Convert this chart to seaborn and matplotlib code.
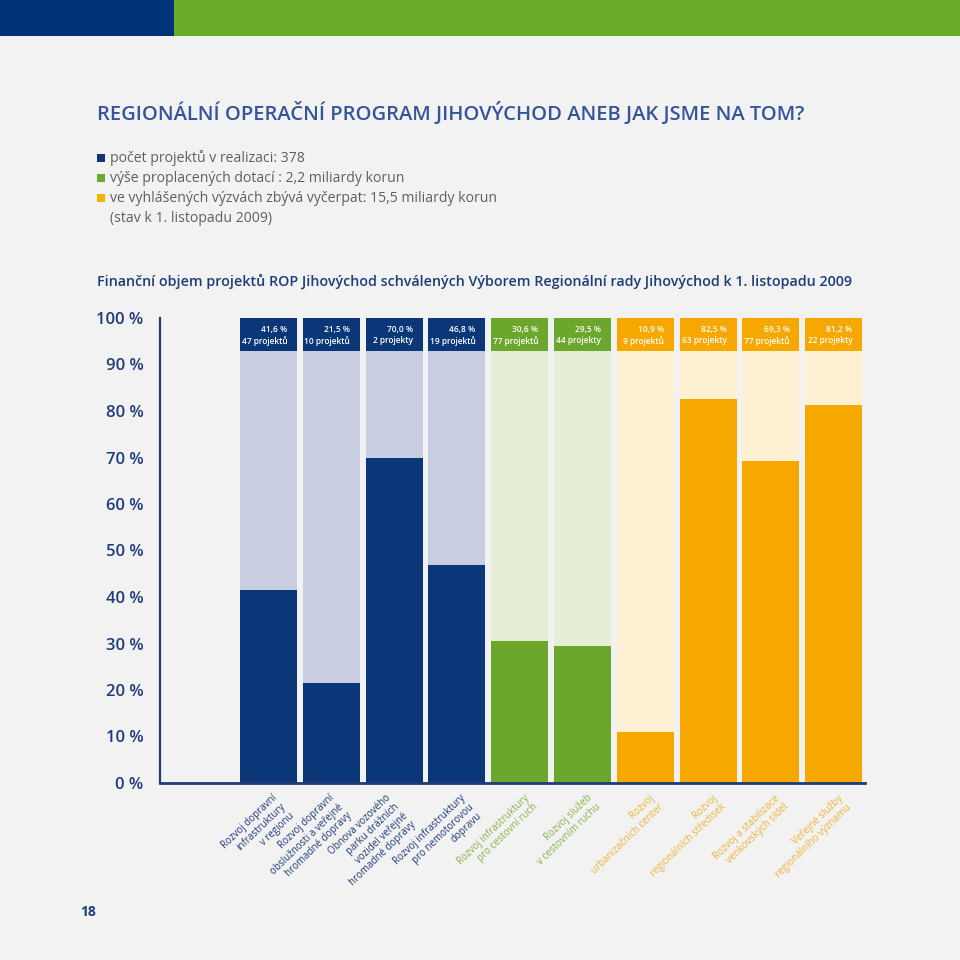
import pandas as pd
import matplotlib.pyplot as plt
import matplotlib.transforms as mtransforms
import seaborn as sns
from matplotlib.patches import Rectangle

# ---------------- DATA ---------------- #
categories = [
    "Rozvoj dopravní\ninfrastruktury\nv regionu",
    "Rozvoj dopravní\nobslužnosti a veřejné\nhromadné dopravy",
    "Obnova vozového\nparku drážních\nvozidel veřejné\nhromadné dopravy",
    "Rozvoj infrastruktury\npro nemotorovou\ndopravu",
    "Rozvoj infrastruktury\npro cestovní ruch",
    "Rozvoj služeb\nv cestovním ruchu",
    "Rozvoj\nurbanizačních center",
    "Rozvoj\nregionálních středisek",
    "Rozvoj a stabilizace\nvenkovských sídel",
    "Veřejné služby\nregionálního významu",
]
shares = [41.6, 21.5, 70.0, 46.8, 30.6, 29.5, 10.9, 82.5, 69.3, 81.2]
project_counts = ["47 projektů", "10 projektů", "2 projekty", "19 projektů", "77 projektů",
                  "44 projekty", "9 projektů", "63 projekty", "77 projektů", "22 projekty"]
groups = ["doprava"] * 4 + ["cestovni_ruch"] * 2 + ["mesta"] * 4

y_ticks = [0, 10, 20, 30, 40, 50, 60, 70, 80, 90, 100]

legend_lines = [
    "počet projektů v realizaci: 378",
    "výše proplacených dotací : 2,2 miliardy korun",
    "ve vyhlášených výzvách zbývá vyčerpat: 15,5 miliardy korun",
]
legend_note = "(stav k 1. listopadu 2009)"

title = "REGIONÁLNÍ OPERAČNÍ PROGRAM JIHOVÝCHOD ANEB JAK JSME NA TOM?"
subtitle = ("Finanční objem projektů ROP Jihovýchod schválených Výborem "
            "Regionální rady Jihovýchod k 1. listopadu 2009")

# ---------------- STYLE ---------------- #
navy = "#0b3779"
dark = {"doprava": "#0b3779", "cestovni_ruch": "#6aa72c", "mesta": "#f6a800"}
light = {"doprava": "#c9cde2", "cestovni_ruch": "#e4efd6", "mesta": "#fdf0d3"}
label_col = {"doprava": "#1d3c78", "cestovni_ruch": "#86b54a", "mesta": "#f0b43a"}
# small horizontal shift of the rotated labels (pixels)
label_shift = [3, -2, -9, 3, 4, 4, 4, 4, 4, 4]

df = pd.DataFrame({"kategorie": categories, "podil": shares, "skupina": groups})
df["plne"] = 100.0
df["pozadi"] = 93.0

sns.set_style("white")
plt.rcParams["font.family"] = ["Open Sans", "DejaVu Sans"]

fig = plt.figure(figsize=(9.6, 9.6), dpi=100, facecolor="#f2f2f2")

# top colour band
fig.add_artist(Rectangle((0, 1 - 36 / 960), 174 / 960, 36 / 960,
                         transform=fig.transFigure, color="#003478", lw=0))
fig.add_artist(Rectangle((174 / 960, 1 - 36 / 960), 1 - 174 / 960, 36 / 960,
                         transform=fig.transFigure, color="#68ac28", lw=0))

ax = fig.add_axes([160 / 960, 177 / 960, 705 / 960, 465 / 960])
ax.set_facecolor("none")

pal_dark = [dark[g] for g in groups]
pal_light = [light[g] for g in groups]

# header box, light background, value bar
for col, pal in [("plne", pal_dark), ("pozadi", pal_light), ("podil", pal_dark)]:
    sns.barplot(data=df, x="kategorie", y=col, hue="kategorie", palette=pal,
                width=0.907, saturation=1, legend=False, errorbar=None,
                linewidth=0, edgecolor="none", ax=ax)

for i, (v, n) in enumerate(zip(shares, project_counts)):
    pct = f"{v:.1f}".replace(".", ",") + " %"
    ax.text(i + 0.3, 96.3, pct + "\n" + n, ha="right", va="center", color="white",
            fontsize=6, fontweight="semibold", linespacing=1.25)

ax.set_xlim(-1.728, 9.5)
ax.set_ylim(0, 100)
ax.set_xlabel("")
ax.set_ylabel("")

ax.set_yticks(y_ticks)
ax.set_yticklabels([f"{t} %" for t in y_ticks])
ax.tick_params(axis="y", direction="in", length=13, width=1.6, color="#1d3c78",
               pad=12, labelsize=12, labelcolor="#1d3c78")
for lab in ax.get_yticklabels():
    lab.set_fontweight("semibold")

ax.set_xticks(range(len(categories)))
ax.set_xticklabels(categories, rotation=44, ha="right", va="top",
                   rotation_mode="anchor", fontsize=7, linespacing=1.15)
ax.tick_params(axis="x", length=0, pad=7)
for lab, g, dx in zip(ax.get_xticklabels(), groups, label_shift):
    lab.set_color(label_col[g])
    lab.set_transform(lab.get_transform() +
                      mtransforms.ScaledTranslation(dx / 100, 0, fig.dpi_scale_trans))

sns.despine(ax=ax, top=True, right=True)
ax.spines["left"].set_color("#1d3c78")
ax.spines["left"].set_linewidth(1.6)
ax.spines["bottom"].set_color("#1d3c78")
ax.spines["bottom"].set_linewidth(2)

# ---------------- TEXTS ---------------- #
fig.text(97 / 960, 1 - 113 / 960, title, fontsize=14.5, color="#34559a",
         fontweight="semibold", va="center")

sq_colors = [navy, "#6aab2d", "#f6b000"]
for k, (line, c) in enumerate(zip(legend_lines, sq_colors)):
    yc = 158 + 20 * k
    fig.add_artist(Rectangle((97 / 960, 1 - (yc + 4) / 960), 8 / 960, 8 / 960,
                             transform=fig.transFigure, color=c, lw=0))
    fig.text(110 / 960, 1 - yc / 960, line, fontsize=10.05, color="#5f5f5f", va="center")
fig.text(110 / 960, 1 - 218 / 960, legend_note, fontsize=10.05, color="#5f5f5f", va="center")

fig.text(97 / 960, 1 - 281 / 960, subtitle, fontsize=10.3, color="#1d3c78",
         fontweight="semibold", va="center")

fig.text(88 / 960, 1 - 912 / 960, "18", fontsize=10, color="#1d3c78",
         fontweight="bold", va="center", ha="center")

fig.savefig("out.png", dpi=100, facecolor=fig.get_facecolor())
